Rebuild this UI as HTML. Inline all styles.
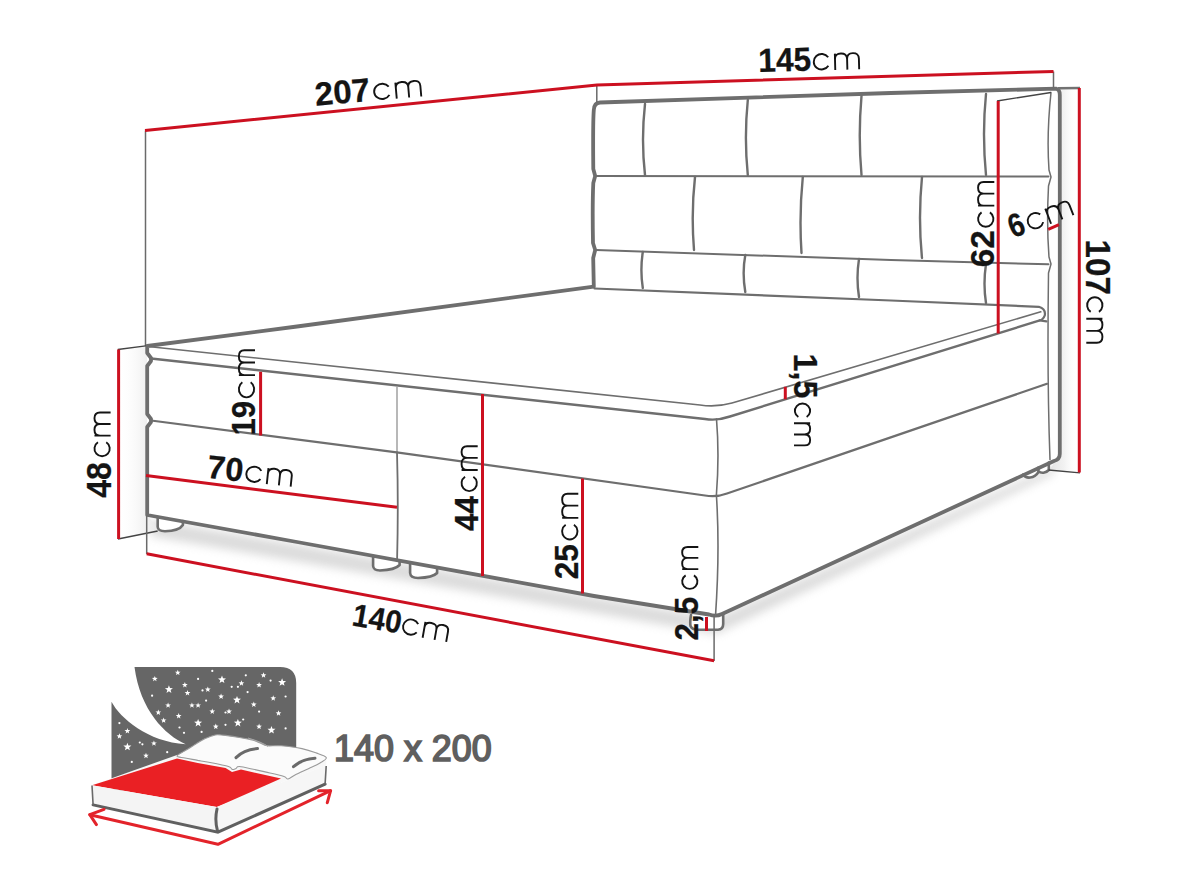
<!DOCTYPE html>
<html><head><meta charset="utf-8">
<style>
html,body{margin:0;padding:0;background:#fff;width:1188px;height:891px;overflow:hidden}
svg{display:block}
text{font-family:"Liberation Sans",sans-serif;fill:#141414}
.b{font-weight:bold;stroke:#141414;stroke-width:0.25px}
.cm{fill:none;stroke:#141414;stroke-width:1.9px;vector-effect:non-scaling-stroke}
</style></head><body>
<svg width="1188" height="891" viewBox="0 0 1188 891">
<defs>
<linearGradient id="gl" x1="0" x2="1" y1="0" y2="0"><stop offset="0" stop-color="#fff" stop-opacity="0"/><stop offset="0.6" stop-color="#f3f3f3"/><stop offset="1" stop-color="#e6e6e6"/></linearGradient>
<linearGradient id="gr" x1="0" x2="1" y1="0" y2="0"><stop offset="0" stop-color="#e4e4e4"/><stop offset="0.5" stop-color="#f2f2f2"/><stop offset="1" stop-color="#fff" stop-opacity="0"/></linearGradient>
<filter id="blur" x="-10%" y="-50%" width="120%" height="200%"><feGaussianBlur stdDeviation="5"/></filter>
</defs>
<rect width="1188" height="891" fill="#fff"/>
<!-- shadow -->
<polygon points="150,519 716,618 1054,466 1054,474 716,634 150,536" fill="#b0b0b0" opacity="0.45" filter="url(#blur)"/>
<!-- side shading -->
<polygon points="118,349.5 147,346 147,515 160,531 118,539" fill="url(#gl)"/>
<polygon points="1060,89 1079,88 1079,473 1049,470 1060,455" fill="url(#gr)"/>
<!-- white box fill to cover shadow inside -->
<path fill="#fff" d="M147.2,346 L591.5,286 L1059.8,95 L1059.8,453.7 L1054,461 L722,614 L716,617 L709,614.5 L147.2,515 Z"/>

<g fill="none" stroke="#6e6e6e" stroke-linecap="round" stroke-linejoin="round">
<!-- feet -->
<path stroke-width="2.6" fill="#fff" d="M157.7,517 L157.7,527 Q158,531.2 165,531.2 Q179,531 182.9,525 L182.9,521"/>
<path stroke-width="2.6" fill="#fff" d="M373.1,556 L373.1,566 Q373.5,570.5 380,570.5 Q395,570 399.6,565 L399.6,560.5"/>
<path stroke-width="2.6" fill="#fff" d="M410.1,562.5 L410.1,573 Q410.5,578 418,578 Q433,577.5 437.1,573 L437.1,567.5"/>
<path stroke-width="2.6" fill="#fff" d="M691,615 Q689.8,622 690.5,626 Q692,629.7 698,629.7 L718,629.7 Q723.2,629.5 723.2,624 L723.2,614.5"/>
<path stroke-width="2.6" fill="#fff" d="M1023,474.5 C1026,479 1034,479 1038.5,472 L1038.5,467.5"/>
<path stroke-width="2.6" fill="#fff" d="M1038.5,471 C1041,474 1046,473 1048.8,470 L1048.8,462.5"/>
<!-- main outline -->
<path stroke-width="3.8" d="M593.8,286.6 L593.2,258 L595.2,250 L593,243 C592.5,215 592.5,200 593.3,183 L595.2,176 L593.3,169 C593,140 593,120 593.8,110 Q594.2,102.8 600,102.5 L891,93 L1056,88.7 Q1059.8,89.5 1059.8,95 L1059.8,453.7 Q1059.8,459.5 1054,461 L722,614 Q716,617 709,614.5 L594,596 L297,542 L147.2,515 L147.2,427 L151,422 L151,419 L147.2,414 L147.2,366 L151,361 L151,358 L147.2,353 L147.2,346 L297,326.5 L593.8,286.6"/>
<!-- row3 bottom / mattress back -->
<path stroke-width="2.2" d="M594.5,288.5 L891,300.5 L1038.8,306.8 Q1046,309 1044.8,315.4 Q1043,320 1039.8,320.4 L1046.4,321.4"/>
<!-- mattress top thin -->
<path stroke-width="1.6" d="M148,346.5 L700,405 Q716,407.5 732,403 L1040.8,311.8"/>
<!-- mattress bottom -->
<path stroke-width="2.4" d="M151,358.5 L705,419 Q717,421 730,416.5 L1039.8,320.4"/>
<!-- box top line -->
<path stroke-width="2.2" d="M151,420.5 L396.7,452.3 L705,495.5 Q716.4,497.5 727,493.5 L1047,383.8"/>
<!-- front corner vertical -->
<path stroke-width="1.6" d="M716.5,419 Q719.5,455 716.4,495 Q720,550 715.5,616"/>
<!-- drawer divider -->
<path stroke-width="1.5" stroke="#a0a0a0" d="M397,387 L397,451"/>
<path stroke-width="1.8" d="M397,452 Q398.5,505 397.1,560"/>
<!-- headboard tufting -->
<path stroke-width="2" d="M596.2,176 L1048.5,176.5 M596.2,250 L891,260 L1048.5,264.3"/>
<path stroke-width="2.4" d="M645,104 Q641,140 645,175 M747.8,100 Q744,138 747.8,175 M861.5,96 Q858,136 861.5,175 M986,94 Q982,134 986,175"/>
<path stroke-width="2.4" d="M695,177 Q691,213 694,250 M802.8,177 Q799,215 801.5,253 M922,177 Q918,218 922,258"/>
<path stroke-width="2.4" d="M642.8,252 Q640,270 642.8,288 M745.3,255 Q742,273 745.3,292 M859,259 Q856,278 859,297 M986,264 Q983,284 986,303"/>
<!-- side panel inner wavy -->
<path stroke-width="1.5" d="M1051,92.5 Q1046.5,135 1049,170 L1051,177 L1048.5,186 Q1046.5,225 1049,257 L1051,264 L1048.5,273 Q1047,380 1050,459.6"/>
</g>
<!-- thin witness lines -->
<g fill="none" stroke="#6a6a6a" stroke-width="1.5">
<path d="M145.5,130.5 V346"/>
<path d="M596.8,85 V102.5 M1053.5,71.5 V88.5"/>
<path stroke="#727272" stroke-width="2.4" d="M1058,88.3 L1080,88"/>
<path stroke="#444" stroke-width="1.3" d="M997,101 L1051,92.5 M117.8,349.5 L145.8,345.9 M118,539 L157.7,531 M1048.5,470 L1080,472.8"/>
<path d="M146.7,515 V554 M714.1,616 V661"/>
</g>
<!-- red dimension lines -->
<g fill="none" stroke="#cc1020" stroke-width="3">
<path d="M145,130.5 L597,85 L1053.5,71.5"/>
<path d="M1079.3,88 V472.5"/>
<path d="M998.2,101 V333.5"/>
<path d="M118.6,349.5 V539"/>
<path d="M260.6,371.8 V435.5"/>
<path d="M146,475.5 L397,507.3"/>
<path d="M482.5,394 V576"/>
<path d="M582.5,478.5 V593.5"/>
<path d="M706.5,617 V631"/>
<path d="M146.7,553.8 L714.1,660.8"/>
<path d="M785.3,386.8 V399.3"/>
<path d="M1048.2,229.4 L1059,224.6"/>
</g>

<!-- labels -->
<g transform="translate(317.0,105.6) rotate(-5.0)"><text class="b" font-size="32.86" transform="translate(-1.16,0) scale(1.008,1)">207</text><path class="cm" transform="translate(57.20,0) scale(1.0298,0.9659)" d="M15.43,-13.1 A7.9,7.9 0 1 0 15.43,-4.5 M22.2,0 V-16.7 M22.2,-11 C22.2,-15 24.5,-16.7 28.25,-16.7 C32,-16.7 34.3,-15 34.3,-11 V0 M34.3,-11 C34.3,-15 36.5,-16.7 40.2,-16.7 C43.9,-16.7 46.1,-15 46.1,-11 V0"/></g>
<g transform="translate(760.6,71.9) rotate(-1.5)"><text class="b" font-size="33.29" transform="translate(-2.06,0) scale(0.954,1)">145</text><path class="cm" transform="translate(52.50,0) scale(1.0000,0.9773)" d="M15.43,-13.1 A7.9,7.9 0 1 0 15.43,-4.5 M22.2,0 V-16.7 M22.2,-11 C22.2,-15 24.5,-16.7 28.25,-16.7 C32,-16.7 34.3,-15 34.3,-11 V0 M34.3,-11 C34.3,-15 36.5,-16.7 40.2,-16.7 C43.9,-16.7 46.1,-15 46.1,-11 V0"/></g>
<g transform="translate(994.3,266.0) rotate(-90)"><text class="b" font-size="33.14" transform="translate(-1.16,0) scale(1.003,1)">62</text><path class="cm" transform="translate(38.40,0) scale(0.9894,0.9716)" d="M15.43,-13.1 A7.9,7.9 0 1 0 15.43,-4.5 M22.2,0 V-16.7 M22.2,-11 C22.2,-15 24.5,-16.7 28.25,-16.7 C32,-16.7 34.3,-15 34.3,-11 V0 M34.3,-11 C34.3,-15 36.5,-16.7 40.2,-16.7 C43.9,-16.7 46.1,-15 46.1,-11 V0"/></g>
<g transform="translate(1014.0,238.0) rotate(-21)"><text class="b" font-size="32.86" transform="translate(-0.97,0) scale(0.847,1)">6</text><path class="cm" transform="translate(17.50,0) scale(1.0000,0.9659)" d="M15.43,-13.1 A7.9,7.9 0 1 0 15.43,-4.5 M22.2,0 V-16.7 M22.2,-11 C22.2,-15 24.5,-16.7 28.25,-16.7 C32,-16.7 34.3,-15 34.3,-11 V0 M34.3,-11 C34.3,-15 36.5,-16.7 40.2,-16.7 C43.9,-16.7 46.1,-15 46.1,-11 V0"/></g>
<g transform="translate(1086.3,241.7) rotate(90)"><text class="b" font-size="34.57" transform="translate(-2.15,0) scale(0.958,1)">107</text><path class="cm" transform="translate(54.60,0) scale(1.0085,0.9659)" d="M15.43,-13.1 A7.9,7.9 0 1 0 15.43,-4.5 M22.2,0 V-16.7 M22.2,-11 C22.2,-15 24.5,-16.7 28.25,-16.7 C32,-16.7 34.3,-15 34.3,-11 V0 M34.3,-11 C34.3,-15 36.5,-16.7 40.2,-16.7 C43.9,-16.7 46.1,-15 46.1,-11 V0"/></g>
<g transform="translate(110.6,497.2) rotate(-90)"><text class="b" font-size="34.29" transform="translate(-0.48,0) scale(0.934,1)">48</text><path class="cm" transform="translate(40.10,0) scale(0.9660,0.9659)" d="M15.43,-13.1 A7.9,7.9 0 1 0 15.43,-4.5 M22.2,0 V-16.7 M22.2,-11 C22.2,-15 24.5,-16.7 28.25,-16.7 C32,-16.7 34.3,-15 34.3,-11 V0 M34.3,-11 C34.3,-15 36.5,-16.7 40.2,-16.7 C43.9,-16.7 46.1,-15 46.1,-11 V0"/></g>
<g transform="translate(255.0,433.5) rotate(-90)"><text class="b" font-size="32.86" transform="translate(-2.03,0) scale(0.949,1)">19</text><path class="cm" transform="translate(35.20,0) scale(1.0426,0.9659)" d="M15.43,-13.1 A7.9,7.9 0 1 0 15.43,-4.5 M22.2,0 V-16.7 M22.2,-11 C22.2,-15 24.5,-16.7 28.25,-16.7 C32,-16.7 34.3,-15 34.3,-11 V0 M34.3,-11 C34.3,-15 36.5,-16.7 40.2,-16.7 C43.9,-16.7 46.1,-15 46.1,-11 V0"/></g>
<g transform="translate(207.8,478.0) rotate(6)"><text class="b" font-size="32.86" transform="translate(-1.46,0) scale(0.989,1)">70</text><path class="cm" transform="translate(37.00,0) scale(1.0043,0.9659)" d="M15.43,-13.1 A7.9,7.9 0 1 0 15.43,-4.5 M22.2,0 V-16.7 M22.2,-11 C22.2,-15 24.5,-16.7 28.25,-16.7 C32,-16.7 34.3,-15 34.3,-11 V0 M34.3,-11 C34.3,-15 36.5,-16.7 40.2,-16.7 C43.9,-16.7 46.1,-15 46.1,-11 V0"/></g>
<g transform="translate(477.7,530.6) rotate(-90)"><text class="b" font-size="33.29" transform="translate(-0.47,0) scale(0.943,1)">44</text><path class="cm" transform="translate(38.60,0) scale(0.9936,0.9659)" d="M15.43,-13.1 A7.9,7.9 0 1 0 15.43,-4.5 M22.2,0 V-16.7 M22.2,-11 C22.2,-15 24.5,-16.7 28.25,-16.7 C32,-16.7 34.3,-15 34.3,-11 V0 M34.3,-11 C34.3,-15 36.5,-16.7 40.2,-16.7 C43.9,-16.7 46.1,-15 46.1,-11 V0"/></g>
<g transform="translate(578.3,578.1) rotate(-90)"><text class="b" font-size="33.29" transform="translate(-1.11,0) scale(0.950,1)">25</text><path class="cm" transform="translate(37.70,0) scale(1.0128,0.9659)" d="M15.43,-13.1 A7.9,7.9 0 1 0 15.43,-4.5 M22.2,0 V-16.7 M22.2,-11 C22.2,-15 24.5,-16.7 28.25,-16.7 C32,-16.7 34.3,-15 34.3,-11 V0 M34.3,-11 C34.3,-15 36.5,-16.7 40.2,-16.7 C43.9,-16.7 46.1,-15 46.1,-11 V0"/></g>
<g transform="translate(698.3,639.4) rotate(-90)"><text class="b" font-size="32.29" transform="translate(-1.10,0) scale(0.971,1)">2,5</text><path class="cm" transform="translate(49.70,0) scale(0.9277,0.9659)" d="M15.43,-13.1 A7.9,7.9 0 1 0 15.43,-4.5 M22.2,0 V-16.7 M22.2,-11 C22.2,-15 24.5,-16.7 28.25,-16.7 C32,-16.7 34.3,-15 34.3,-11 V0 M34.3,-11 C34.3,-15 36.5,-16.7 40.2,-16.7 C43.9,-16.7 46.1,-15 46.1,-11 V0"/></g>
<g transform="translate(794.0,355.7) rotate(90)"><text class="b" font-size="32.43" transform="translate(-2.09,0) scale(0.992,1)">1,5</text><path class="cm" transform="translate(47.00,0) scale(0.9255,0.9659)" d="M15.43,-13.1 A7.9,7.9 0 1 0 15.43,-4.5 M22.2,0 V-16.7 M22.2,-11 C22.2,-15 24.5,-16.7 28.25,-16.7 C32,-16.7 34.3,-15 34.3,-11 V0 M34.3,-11 C34.3,-15 36.5,-16.7 40.2,-16.7 C43.9,-16.7 46.1,-15 46.1,-11 V0"/></g>
<g transform="translate(353.0,625.5) rotate(10)"><text class="b" font-size="31.86" transform="translate(-1.92,0) scale(0.926,1)">140</text><path class="cm" transform="translate(48.50,0) scale(1.0000,0.9659)" d="M15.43,-13.1 A7.9,7.9 0 1 0 15.43,-4.5 M22.2,0 V-16.7 M22.2,-11 C22.2,-15 24.5,-16.7 28.25,-16.7 C32,-16.7 34.3,-15 34.3,-11 V0 M34.3,-11 C34.3,-15 36.5,-16.7 40.2,-16.7 C43.9,-16.7 46.1,-15 46.1,-11 V0"/></g>
<text font-size="36.00" style="fill:#5f5f5f;stroke:#5f5f5f;stroke-width:1.7px" transform="translate(334.11,760.6) scale(0.997,1)">140 x 200</text>
<!-- icon -->
<g id="icon">
<path fill="#666666" d="M134.5,667 L280,667 Q296.2,667 296.2,683 L296.2,772 L111.5,792 L111.5,701.8 C120,718 148,742 185.7,744.3 C165,735 140,710 134.5,667 Z"/>
<g fill="#ffffff">
<polygon points="177.8,669.7 178.5,671.7 180.6,671.8 179.0,673.1 179.5,675.1 177.8,673.9 176.0,675.1 176.6,673.1 174.9,671.8 177.0,671.7"/>
<circle cx="212.3" cy="670.9" r="1.1"/>
<polygon points="154.8,675.9 155.5,677.8 157.7,677.9 156.0,679.3 156.6,681.3 154.8,680.1 153.0,681.3 153.6,679.3 151.9,677.9 154.1,677.8"/>
<circle cx="198.1" cy="678.9" r="1.1"/>
<polygon points="222.0,675.5 223.0,678.3 226.0,678.5 223.7,680.3 224.4,683.1 222.0,681.5 219.5,683.1 220.3,680.3 218.0,678.5 220.9,678.3"/>
<circle cx="245.8" cy="675.3" r="1.1"/>
<polygon points="263.5,672.3 264.3,674.3 266.4,674.4 264.7,675.7 265.3,677.8 263.5,676.6 261.8,677.8 262.3,675.7 260.7,674.4 262.8,674.3"/>
<circle cx="270.6" cy="680.6" r="1.1"/>
<polygon points="282.1,678.2 283.1,681.0 286.1,681.1 283.8,682.9 284.5,685.8 282.1,684.2 279.6,685.8 280.4,682.9 278.1,681.1 281.0,681.0"/>
<polygon points="168.9,685.3 170.0,688.0 172.9,688.2 170.6,690.0 171.4,692.9 168.9,691.2 166.5,692.9 167.3,690.0 164.9,688.2 167.9,688.0"/>
<polygon points="184.9,682.1 185.6,684.0 187.7,684.1 186.0,685.4 186.6,687.5 184.9,686.3 183.1,687.5 183.7,685.4 182.0,684.1 184.1,684.0"/>
<polygon points="207.8,686.5 208.6,688.5 210.7,688.5 209.0,689.9 209.6,691.9 207.8,690.7 206.1,691.9 206.6,689.9 205.0,688.5 207.1,688.5"/>
<circle cx="202.5" cy="690.4" r="1.1"/>
<polygon points="241.4,680.3 242.2,682.3 244.3,682.4 242.6,683.7 243.2,685.7 241.4,684.5 239.7,685.7 240.2,683.7 238.6,682.4 240.7,682.3"/>
<circle cx="237.9" cy="686.8" r="1.1"/>
<circle cx="231.7" cy="686.8" r="1.1"/>
<polygon points="259.1,682.1 259.8,684.0 261.9,684.1 260.3,685.4 260.9,687.5 259.1,686.3 257.3,687.5 257.9,685.4 256.2,684.1 258.4,684.0"/>
<circle cx="247.6" cy="692.1" r="1.1"/>
<circle cx="152.1" cy="695.7" r="1.1"/>
<polygon points="187.5,690.0 188.2,692.0 190.4,692.1 188.7,693.4 189.3,695.4 187.5,694.3 185.7,695.4 186.3,693.4 184.6,692.1 186.8,692.0"/>
<polygon points="221.1,693.5 221.8,695.5 223.9,695.6 222.3,696.9 222.9,699.0 221.1,697.8 219.3,699.0 219.9,696.9 218.2,695.6 220.3,695.5"/>
<polygon points="237.0,695.9 238.0,698.6 241.0,698.8 238.7,700.6 239.5,703.5 237.0,701.8 234.5,703.5 235.3,700.6 233.0,698.8 236.0,698.6"/>
<polygon points="273.2,695.3 274.0,697.3 276.1,697.4 274.4,698.7 275.0,700.7 273.2,699.6 271.5,700.7 272.0,698.7 270.4,697.4 272.5,697.3"/>
<circle cx="285.6" cy="696.5" r="1.1"/>
<circle cx="206.1" cy="700.6" r="1.1"/>
<polygon points="168.1,702.4 168.8,704.4 170.9,704.5 169.3,705.8 169.8,707.8 168.1,706.6 166.3,707.8 166.9,705.8 165.2,704.5 167.3,704.4"/>
<polygon points="191.9,702.4 192.7,704.4 194.8,704.5 193.1,705.8 193.7,707.8 191.9,706.6 190.2,707.8 190.7,705.8 189.1,704.5 191.2,704.4"/>
<polygon points="198.1,702.4 198.8,704.4 201.0,704.5 199.3,705.8 199.9,707.8 198.1,706.6 196.3,707.8 196.9,705.8 195.3,704.5 197.4,704.4"/>
<polygon points="253.8,701.5 254.5,703.5 256.6,703.6 255.0,704.9 255.6,706.9 253.8,705.8 252.0,706.9 252.6,704.9 250.9,703.6 253.1,703.5"/>
<polygon points="158.3,709.5 159.1,711.4 161.2,711.5 159.5,712.8 160.1,714.9 158.3,713.7 156.6,714.9 157.1,712.8 155.5,711.5 157.6,711.4"/>
<polygon points="178.7,713.0 179.4,715.0 181.5,715.1 179.9,716.4 180.4,718.4 178.7,717.2 176.9,718.4 177.5,716.4 175.8,715.1 177.9,715.0"/>
<polygon points="212.3,708.6 213.0,710.5 215.1,710.6 213.4,712.0 214.0,714.0 212.3,712.8 210.5,714.0 211.1,712.0 209.4,710.6 211.5,710.5"/>
<circle cx="225.5" cy="712.5" r="1.1"/>
<polygon points="229.0,708.6 229.8,710.5 231.9,710.6 230.2,712.0 230.8,714.0 229.0,712.8 227.3,714.0 227.8,712.0 226.2,710.6 228.3,710.5"/>
<circle cx="259.1" cy="711.6" r="1.1"/>
<polygon points="278.5,710.3 279.3,712.3 281.4,712.4 279.7,713.7 280.3,715.8 278.5,714.6 276.8,715.8 277.3,713.7 275.7,712.4 277.8,712.3"/>
<polygon points="163.6,717.4 164.4,719.4 166.5,719.5 164.8,720.8 165.4,722.8 163.6,721.7 161.9,722.8 162.4,720.8 160.8,719.5 162.9,719.4"/>
<polygon points="198.1,718.9 199.1,721.6 202.1,721.8 199.8,723.6 200.6,726.5 198.1,724.8 195.6,726.5 196.4,723.6 194.1,721.8 197.1,721.6"/>
<polygon points="237.9,718.9 238.9,721.6 241.9,721.8 239.6,723.6 240.4,726.5 237.9,724.8 235.4,726.5 236.2,723.6 233.9,721.8 236.8,721.6"/>
<circle cx="243.2" cy="719.5" r="1.1"/>
<circle cx="225.5" cy="724.8" r="1.1"/>
<polygon points="215.8,723.6 216.5,725.6 218.6,725.7 217.0,727.0 217.5,729.0 215.8,727.9 214.0,729.0 214.6,727.0 212.9,725.7 215.0,725.6"/>
<polygon points="259.1,723.6 259.8,725.6 261.9,725.7 260.3,727.0 260.9,729.0 259.1,727.9 257.3,729.0 257.9,727.0 256.2,725.7 258.4,725.6"/>
<polygon points="271.5,725.9 272.5,728.7 275.5,728.8 273.1,730.7 273.9,733.5 271.5,731.9 269.0,733.5 269.8,730.7 267.5,728.8 270.4,728.7"/>
<circle cx="285.6" cy="728.4" r="1.1"/>
<circle cx="119.4" cy="723.1" r="1.1"/>
<polygon points="127.4,728.0 128.1,730.0 130.3,730.1 128.6,731.4 129.2,733.4 127.4,732.3 125.6,733.4 126.2,731.4 124.5,730.1 126.7,730.0"/>
<polygon points="119.4,733.3 120.2,735.3 122.3,735.4 120.6,736.7 121.2,738.7 119.4,737.6 117.7,738.7 118.2,736.7 116.6,735.4 118.7,735.3"/>
<circle cx="179.5" cy="727.5" r="1.1"/>
<circle cx="184.0" cy="732.8" r="1.1"/>
<circle cx="201.6" cy="731.9" r="1.1"/>
<polygon points="127.4,742.7 128.4,745.5 131.4,745.6 129.1,747.5 129.9,750.3 127.4,748.7 124.9,750.3 125.7,747.5 123.4,745.6 126.4,745.5"/>
<circle cx="139.8" cy="742.5" r="1.1"/>
<circle cx="142.4" cy="744.3" r="1.1"/>
<polygon points="153.9,740.4 154.7,742.4 156.8,742.5 155.1,743.8 155.7,745.8 153.9,744.6 152.2,745.8 152.7,743.8 151.1,742.5 153.2,742.4"/>
<polygon points="146.0,752.8 146.7,754.7 148.8,754.8 147.2,756.1 147.7,758.2 146.0,757.0 144.2,758.2 144.8,756.1 143.1,754.8 145.2,754.7"/>
<circle cx="167.2" cy="752.2" r="1.1"/>
<circle cx="131.8" cy="761.9" r="1.1"/>
</g>
<polygon fill="#f7f7f7" points="92,785.2 177,755 326.3,757 326.2,765.5 216.8,807.1"/>
<polygon fill="#ea2024" points="92,785.2 177,758.5 197.8,763 225.6,768 232,772 241,769.5 281,778.5 216.8,807.1"/>
<polygon fill="#f4f4f4" points="92,785.2 216.8,807.1 217.9,832.2 93.1,804.9"/>
<polygon fill="#f6f6f6" points="216.8,807.1 326.2,765.5 325.1,784.1 217.9,832.2"/>
<path fill="none" stroke="#606060" stroke-width="3" stroke-linecap="round" d="M93.1,804.9 L217.9,832.2 L325.1,784.1 M217,809 Q214.5,820 217.5,831"/>
<path fill="none" stroke="#6a6a6a" stroke-width="1.6" d="M92,785.5 L93.1,804.9 M326.2,766 L325.1,784.1"/>
<path fill="#fbfbfb" stroke="#9a9a9a" stroke-width="1.1" stroke-linejoin="round" d="M177.0,756.2 C176.8,755.1 181.6,752.9 183.9,751.4 C186.2,749.9 187.8,749.1 190.8,747.2 C193.8,745.4 198.5,742.1 202.0,740.3 C205.5,738.4 209.2,737.0 211.7,736.1 C214.2,735.2 214.9,734.8 217.2,734.7 C219.5,734.6 221.9,734.9 225.6,735.4 C229.3,735.9 234.8,736.7 239.4,737.5 C244.0,738.3 249.8,739.4 253.3,740.3 C256.8,741.2 258.0,742.2 260.3,743.1 C262.6,744.0 263.7,745.3 267.2,745.8 C270.7,746.2 275.3,745.3 281.1,745.8 C286.9,746.3 296.2,747.4 302.0,748.6 C307.8,749.8 311.8,751.3 315.8,752.8 C319.9,754.3 325.6,755.9 326.3,757.6 C327.0,759.3 322.9,761.2 320.0,763.0 C317.1,764.8 313.1,766.5 308.9,768.5 C304.7,770.5 298.5,773.2 295.0,775.0 C291.5,776.8 289.8,778.8 288.0,779.0 C286.2,779.2 287.0,777.5 284.0,776.5 C281.0,775.5 277.2,774.6 270.0,773.0 C262.8,771.4 246.7,767.5 241.0,766.7 C235.3,766.0 237.5,768.0 236.0,768.5 C234.5,769.0 233.4,769.7 232.2,769.4 C230.9,769.1 232.2,767.6 228.5,766.5 C224.8,765.4 215.1,763.5 210.0,762.5 C204.9,761.5 202.0,761.1 197.8,760.4 C193.6,759.6 188.5,758.7 185.0,758.0 C181.5,757.3 177.2,757.3 177.0,756.2 Z"/>
<path fill="none" stroke="#a8a8a8" stroke-width="1" d="M248,738 Q262,742 268,746.5"/>
<path fill="none" stroke="#6a6a6a" stroke-width="3" stroke-linecap="round" d="M236,757.6 Q244,749.5 257.5,748.6 M293.5,766.7 Q302,759 315,758.3"/>
<g fill="none" stroke="#e3232a" stroke-width="3" stroke-linecap="round" stroke-linejoin="round">
<path d="M89.8,814.7 L217.9,844.3 L330.6,790.7"/>
<path d="M104,809.3 L89.8,814.7 L96.4,824.6 M318.6,790.7 L330.6,790.7 L327.3,802.7"/>
</g>
</g>

</svg>
</body></html>
